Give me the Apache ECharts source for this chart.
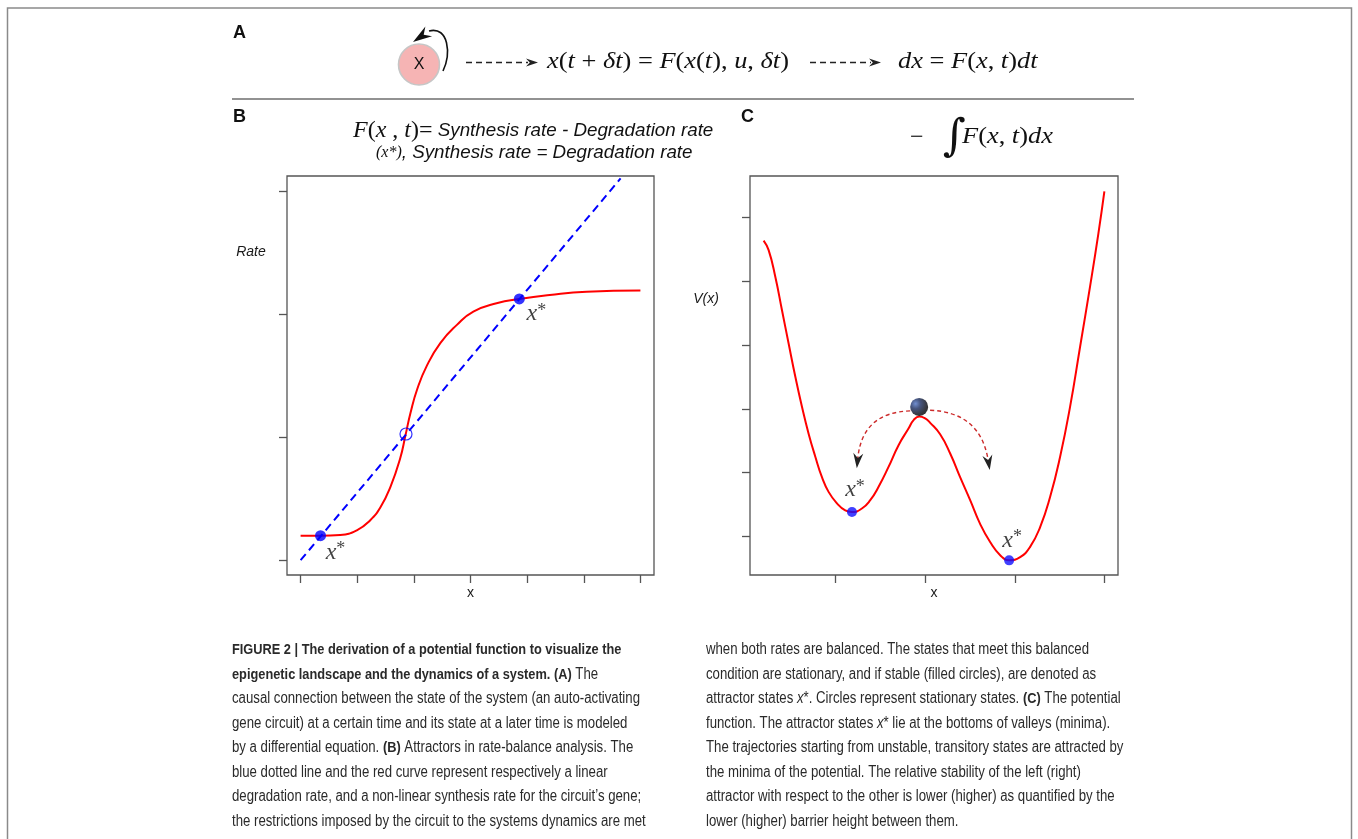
<!DOCTYPE html>
<html>
<head>
<meta charset="utf-8">
<title>Figure 2</title>
<script src="https://cdn.jsdelivr.net/npm/echarts@6.0.0/dist/echarts.min.js"></script>
<style>
  html, body { margin: 0; padding: 0; background: #fff; }
  #fig { width: 1358px; height: 839px; }
</style>
</head>
<body>
<div id="fig"></div>
<script>
// ---- panel B: synthesis rate vs linear degradation rate ----
var rateX = [0, 0.35, 0.70, 1.00, 1.23, 1.41, 1.59, 1.76, 1.85, 1.94, 2.06, 2.23, 2.47, 2.76, 3.05, 3.46, 3.86, 4.40, 5.05, 6.00];
var synthesisRate = [0.199, 0.199, 0.205, 0.245, 0.325, 0.43, 0.60, 0.83, 1.01, 1.195, 1.39, 1.58, 1.765, 1.911, 2.019, 2.087, 2.122, 2.154, 2.180, 2.190];
var degradationX = [0, 5.65];
var degradationRate = [0, 3.10];
var stableB = [[0.352, 0.199], [3.862, 2.122]];
var unstableB = [[1.861, 1.025]];
var ticksBx = [0, 1, 2, 3, 4, 5, 6];
var ticksBy = [0, 1, 2, 3];

// ---- panel C: potential V(x) ----
var potentialX = [0.197, 0.253, 0.328, 0.402, 0.476, 0.551, 0.625, 0.699, 0.774, 0.848, 0.922, 1.016, 1.108, 1.183, 1.294, 1.387, 1.480, 1.591, 1.703, 1.814, 1.875, 1.935, 2.000, 2.056, 2.167, 2.279, 2.390, 2.502, 2.613, 2.725, 2.837, 2.937, 3.060, 3.171, 3.283, 3.394, 3.506, 3.617, 3.729, 3.840, 3.933, 4.000];
var potentialV = [4.63, 4.48, 4.06, 3.54, 3.02, 2.50, 2.03, 1.61, 1.25, 0.93, 0.70, 0.52, 0.41, 0.385, 0.44, 0.57, 0.78, 1.09, 1.43, 1.69, 1.83, 1.88, 1.85, 1.78, 1.60, 1.30, 0.93, 0.57, 0.20, -0.085, -0.29, -0.37, -0.32, -0.16, 0.15, 0.62, 1.25, 2.03, 2.97, 3.91, 4.74, 5.40];
var stableC = [[1.183, 0.385], [2.937, -0.371]];
var ballC = [[1.933, 2.028]];
var ticksCx = [1, 2, 3, 4];
var ticksCy = [0, 1, 2, 3, 4, 5];
// dashed paths rolling off the barrier: start, control, end
var rollLeft = [[1.833, 1.966], [1.298, 1.945], [1.248, 1.225]];
var rollRight = [[2.055, 1.977], [2.617, 1.945], [2.703, 1.195]];

// ---- caption ----
var captionLeft = [
  '{b|FIGURE 2 | The derivation of a potential function to visualize the}',
  '{b|epigenetic landscape and the dynamics of a system. (A)}{n| The}',
  '{n|causal connection between the state of the system (an auto-activating}',
  '{n|gene circuit) at a certain time and its state at a later time is modeled}',
  '{n|by a differential equation. }{b|(B)}{n| Attractors in rate-balance analysis. The}',
  '{n|blue dotted line and the red curve represent respectively a linear}',
  '{n|degradation rate, and a non-linear synthesis rate for the circuit\u2019s gene;}',
  '{n|the restrictions imposed by the circuit to the systems dynamics are met}'
];
var captionRight = [
  '{n|when both rates are balanced. The states that meet this balanced}',
  '{n|condition are stationary, and if stable (filled circles), are denoted as}',
  '{n|attractor states }{i|x}{n|*. Circles represent stationary states. }{b|(C)}{n| The potential}',
  '{n|function. The attractor states }{i|x}{n|* lie at the bottoms of valleys (minima).}',
  '{n|The trajectories starting from unstable, transitory states are attracted by}',
  '{n|the minima of the potential. The relative stability of the left (right)}',
  '{n|attractor with respect to the other is lower (higher) as quantified by the}',
  '{n|lower (higher) barrier height between them.}'
];

var sans = '"Liberation Sans", Arial, sans-serif';
var serif = '"Liberation Serif", "DejaVu Serif", serif';
var ink = '#1a1a1a';
var frame = '#555';

function zip(a, b) {
  return a.map(function (v, i) { return [v, b[i]]; });
}

var starRich = {
  x: { fontFamily: serif, fontStyle: 'italic', fontSize: 24, color: '#111' },
  s: { fontFamily: serif, fontSize: 18, color: '#111', verticalAlign: 'top' }
};
var starLabel = { show: true, position: 'inside', formatter: '{x|x}{s|*}', rich: starRich };

function withOffsets(points, offsets) {
  return points.map(function (p, i) {
    return { value: p, label: { offset: offsets[i] } };
  });
}

function axis(grid, min, max, ticks, name) {
  return {
    gridIndex: grid, type: 'value', min: min, max: max,
    axisLine: { show: false, onZero: false },
    axisTick: { show: true, inside: false, length: 8, customValues: ticks, lineStyle: { color: frame, width: 1.3 } },
    axisLabel: { show: false },
    splitLine: { show: false },
    name: name, nameLocation: 'middle', nameGap: 11,
    nameTextStyle: { fontFamily: sans, fontSize: 14, color: ink }
  };
}

var chart = echarts.init(document.getElementById('fig'));

var option = {
  animation: false,
  backgroundColor: '#fff',
  grid: [
    { left: 287, top: 176, width: 367, height: 399, show: true, borderColor: frame, borderWidth: 1.3, backgroundColor: 'rgba(0,0,0,0)', outerBoundsMode: 'none' },
    { left: 750, top: 176, width: 368, height: 399, show: true, borderColor: frame, borderWidth: 1.3, backgroundColor: 'rgba(0,0,0,0)', outerBoundsMode: 'none' }
  ],
  xAxis: [
    axis(0, -0.24, 6.24, ticksBx, 'x'),
    axis(1, 0.045, 4.152, ticksCx, 'x')
  ],
  yAxis: [
    axis(0, -0.12, 3.12, ticksBy, ''),
    axis(1, -0.6, 5.64, ticksCy, '')
  ],
  series: [
    {
      name: 'synthesis', type: 'line', xAxisIndex: 0, yAxisIndex: 0,
      data: zip(rateX, synthesisRate), smooth: 0.5,
      showSymbol: false, silent: true,
      lineStyle: { color: '#ff0000', width: 2 }
    },
    {
      name: 'degradation', type: 'line', xAxisIndex: 0, yAxisIndex: 0,
      data: zip(degradationX, degradationRate), showSymbol: false, silent: true,
      lineStyle: { color: '#0000ff', width: 2, type: [8, 5] }
    },
    {
      name: 'stable B', type: 'scatter', xAxisIndex: 0, yAxisIndex: 0,
      data: withOffsets(stableB, [[15, 17], [17, 15]]),
      symbolSize: 11, silent: true, z: 5,
      itemStyle: { color: '#0000ff' },
      label: starLabel
    },
    {
      name: 'unstable B', type: 'scatter', xAxisIndex: 0, yAxisIndex: 0,
      data: unstableB, symbolSize: 12, silent: true, z: 5,
      itemStyle: { color: 'rgba(0,0,0,0)', borderColor: '#0000ff', borderWidth: 1.2 }
    },
    {
      name: 'potential', type: 'line', xAxisIndex: 1, yAxisIndex: 1,
      data: zip(potentialX, potentialV), smooth: 0.5,
      showSymbol: false, silent: true,
      lineStyle: { color: '#ff0000', width: 2 }
    },
    {
      name: 'stable C', type: 'scatter', xAxisIndex: 1, yAxisIndex: 1,
      data: withOffsets(stableC, [[3, -22], [3, -20]]),
      symbolSize: 10, silent: true, z: 5,
      itemStyle: { color: '#1010ff' },
      label: starLabel
    },
    {
      name: 'ball', type: 'scatter', xAxisIndex: 1, yAxisIndex: 1,
      data: ballC, symbolSize: 18, silent: true, z: 6,
      itemStyle: {
        color: new echarts.graphic.RadialGradient(0.3, 0.32, 0.8, [
          { offset: 0, color: '#4d72c4' },
          { offset: 0.35, color: '#172a5e' },
          { offset: 0.8, color: '#03050c' },
          { offset: 1, color: '#000000' }
        ])
      }
    }
  ]
};
chart.setOption(option);

// ---- annotations, titles and caption ----
function stealth(tip, from, len, wid, color) {
  var dx = tip[0] - from[0], dy = tip[1] - from[1];
  var d = Math.sqrt(dx * dx + dy * dy);
  dx /= d; dy /= d;
  var bx = tip[0] - dx * len, by = tip[1] - dy * len;
  var nx = -dy * wid / 2, ny = dx * wid / 2;
  return {
    type: 'polygon', z: 20,
    shape: { points: [tip, [bx + nx, by + ny], [tip[0] - dx * len * 0.68, tip[1] - dy * len * 0.68], [bx - nx, by - ny]] },
    style: { fill: color }
  };
}

function rollArc(arc) {
  var s = chart.convertToPixel({ gridIndex: 1 }, arc[0]);
  var c = chart.convertToPixel({ gridIndex: 1 }, arc[1]);
  var e = chart.convertToPixel({ gridIndex: 1 }, arc[2]);
  var dx = e[0] - c[0], dy = e[1] - c[1];
  var d = Math.sqrt(dx * dx + dy * dy);
  var tip = [e[0] + dx / d * 10, e[1] + dy / d * 10];
  return [
    {
      type: 'bezierCurve', z: 19,
      shape: { x1: s[0], y1: s[1], x2: e[0], y2: e[1], cpx1: c[0], cpy1: c[1] },
      style: { stroke: '#cc2a2a', lineWidth: 1.4, lineDash: [4, 3], fill: 'none' }
    },
    stealth(tip, e, 15, 10, '#222')
  ];
}

function txt(x, y, text, rich, opts) {
  opts = opts || {};
  return {
    type: 'text', x: x, y: y, z: 20,
    scaleX: opts.scaleX || 1,
    style: {
      text: text, rich: rich,
      fontSize: opts.fontSize || 16, fontFamily: opts.fontFamily || sans,
      fontWeight: opts.fontWeight || 'normal', fontStyle: opts.fontStyle || 'normal',
      fill: opts.fill || ink,
      textAlign: opts.align || 'left', textVerticalAlign: 'middle'
    }
  };
}

var mathRich = {
  i: { fontFamily: serif, fontStyle: 'italic', fontSize: 24, fill: '#111' },
  r: { fontFamily: serif, fontSize: 24, fill: '#111' }
};
var titleRich = {
  i: { fontFamily: serif, fontStyle: 'italic', fontSize: 24, fill: '#111' },
  r: { fontFamily: serif, fontSize: 24, fill: '#111' },
  si: { fontFamily: serif, fontStyle: 'italic', fontSize: 16, fill: '#111' },
  s: { fontFamily: sans, fontStyle: 'italic', fontSize: 18.8, fill: '#111' }
};
var capInk = '#2a2a2a';
var capRich = {
  n: { fontFamily: sans, fontSize: 16, fill: capInk },
  b: { fontFamily: sans, fontSize: 15.5, fontWeight: 'bold', fill: capInk },
  i: { fontFamily: sans, fontSize: 16, fontStyle: 'italic', fill: capInk }
};

var g = [];
// outer frame (open at the bottom) and separator
g.push({ type: 'rect', z: 1, shape: { x: 7.5, y: 8, width: 1344, height: 880 }, style: { fill: 'none', stroke: '#8a8a8a', lineWidth: 1.5 } });
g.push({ type: 'line', z: 1, shape: { x1: 232, y1: 99, x2: 1134, y2: 99 }, style: { stroke: '#6e6e6e', lineWidth: 1.5 } });

// panel letters
g.push(txt(233, 33, 'A', null, { fontSize: 18, fontWeight: 'bold', fill: '#111' }));
g.push(txt(233, 117, 'B', null, { fontSize: 18, fontWeight: 'bold', fill: '#111' }));
g.push(txt(741, 117, 'C', null, { fontSize: 18, fontWeight: 'bold', fill: '#111' }));

// panel A: self-activating node
g.push({ type: 'circle', z: 10, shape: { cx: 419, cy: 64.5, r: 20.5 }, style: { fill: '#f6b4b4', stroke: '#c6c6c6', lineWidth: 1.6 } });
g.push(txt(419, 65, 'X', null, { fontSize: 16, align: 'center', fill: '#111' }));
g.push({ type: 'bezierCurve', z: 10, shape: { x1: 443, y1: 71, cpx1: 451, cpy1: 54, cpx2: 449, cpy2: 26, x2: 429, y2: 31 }, style: { stroke: '#111', lineWidth: 1.6, fill: 'none' } });
g.push(stealth([413, 42], [430, 30.5], 19, 12, '#111'));
// dashed arrows
g.push({ type: 'line', z: 10, shape: { x1: 466, y1: 62.5, x2: 528, y2: 62.5 }, style: { stroke: '#222', lineWidth: 1.3, lineDash: [6, 4] } });
g.push(stealth([538, 62.5], [520, 62.5], 12, 8, '#222'));
g.push({ type: 'line', z: 10, shape: { x1: 810, y1: 62.5, x2: 871, y2: 62.5 }, style: { stroke: '#222', lineWidth: 1.3, lineDash: [6, 4] } });
g.push(stealth([881, 62.5], [860, 62.5], 12, 8, '#222'));
// formulas
g.push(txt(547, 62, '{i|x}{r|(}{i|t}{r| + }{i|\u03b4t}{r|) = }{i|F}{r|(}{i|x}{r|(}{i|t}{r|), }{i|u}{r|, }{i|\u03b4t}{r|)}', mathRich, { scaleX: 1.1 }));
g.push(txt(898, 62, '{i|dx}{r| = }{i|F}{r|(}{i|x}{r|, }{i|t}{r|)}{i|dt}', mathRich, { scaleX: 1.1 }));

// panel titles
g.push(txt(353, 131, '{i|F}{r|(}{i|x}{r| , }{i|t}{r|)=}{s| Synthesis rate - Degradation rate}', titleRich));
g.push(txt(376, 153, '{si|(x*)}{s|, Synthesis rate = Degradation rate}', titleRich));
g.push(txt(910, 138, '\u2212', null, { fontSize: 24, fontFamily: serif, fill: '#111' }));
g.push(txt(943, 139, '\u222b', null, { fontSize: 44, fontFamily: '"DejaVu Serif", serif', fontStyle: 'italic', fill: '#111' }));
g.push(txt(962, 137, '{i|F}{r|(}{i|x}{r|, }{i|t}{r|)}{i|dx}', mathRich, { scaleX: 1.1 }));

// y-axis names
g.push(txt(251, 252, 'Rate', null, { fontSize: 14, fontStyle: 'italic', align: 'center' }));
g.push(txt(706, 299, 'V(x)', null, { fontSize: 14, fontStyle: 'italic', align: 'center' }));

// trajectories in panel C
g = g.concat(rollArc(rollLeft), rollArc(rollRight));

// caption
captionLeft.forEach(function (t, i) {
  g.push(txt(232, 650 + i * 24.5, t, capRich, { scaleX: 0.825 }));
});
captionRight.forEach(function (t, i) {
  g.push(txt(706, 650 + i * 24.5, t, capRich, { scaleX: 0.825 }));
});

chart.setOption({ graphic: g });

window.addEventListener('resize', function () {
  chart.resize();
});
</script>
</body>
</html>
